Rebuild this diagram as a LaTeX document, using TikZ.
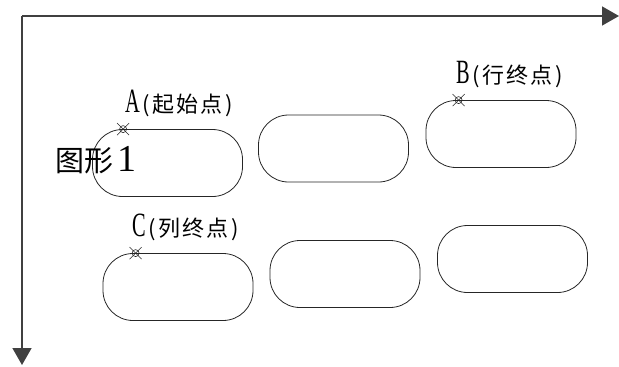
\documentclass[tikz,border=0pt]{standalone}
\usepackage{fontspec}
\setmainfont{Liberation Serif}
\newfontfamily\cjk{Noto Sans CJK SC}
\newfontfamily\cjkspaced[LetterSpace=10]{Noto Sans CJK SC}
\usetikzlibrary{arrows.meta}
\newcommand\mylbl[2]{\scalebox{0.6}[1]{\fontsize{34}{34}\selectfont #1}\hspace{3pt}{\cjkspaced\fontsize{22}{22}\selectfont #2}}
\begin{document}
\begin{tikzpicture}[x=1pt,y=-1pt,
  axis/.style={draw=black!75,line width=1.4pt,-{Triangle[length=17pt,width=19pt]}},
  stadium/.style={draw=black!85,line width=0.8pt,rounded corners=30pt,minimum width=150pt,minimum height=67pt,inner sep=0pt},
  marker/.style={circle,draw=black!85,line width=0.6pt,minimum size=7pt,inner sep=0pt},
  crossline/.style={draw=black!85,line width=0.5pt},
  lbl/.style={anchor=base west,inner sep=0pt}]
\useasboundingbox (0,0) rectangle (619,367);
% axes
\coordinate (o) at (22,16);
\coordinate (xe) at (619,16);
\coordinate (ye) at (22,365);
\draw[axis] (o) -- (xe);
\draw[axis] (o) -- (ye);
% shapes
\node[stadium] (s1) at (167.5,163) {};
\node[stadium] (s2) at (333.5,148.5) {};
\node[stadium] (s3) at (501,134) {};
\node[stadium] (s4) at (178,287) {};
\node[stadium] (s5) at (345,274) {};
\node[stadium] (s6) at (512.5,259) {};
% markers
\node[marker] (mA) at ([xshift=31pt]s1.north west) {};
\node[marker] (mB) at ([xshift=33pt]s3.north west) {};
\node[marker] (mC) at ([xshift=33pt]s4.north west) {};
\foreach \m in {mA,mB,mC}{
  \draw[crossline] ([shift={(-6,-6)}]\m.center) -- ([shift={(6,6)}]\m.center);
  \draw[crossline] ([shift={(-6,6)}]\m.center) -- ([shift={(6,-6)}]\m.center);
}
% labels
\node[lbl] (lA) at (125,112) {\mylbl{A}{(起始点)}};
\node[lbl] (lB) at (456,83) {\mylbl{B}{(行终点)}};
\node[lbl] (lC) at (132,236) {\mylbl{C}{(列终点)}};
\node[lbl] (t1) at (55,171) {{\cjk\fontsize{29}{29}\selectfont 图形}\hspace{4pt}{\fontsize{38}{38}\selectfont 1}};
\end{tikzpicture}
\end{document}
